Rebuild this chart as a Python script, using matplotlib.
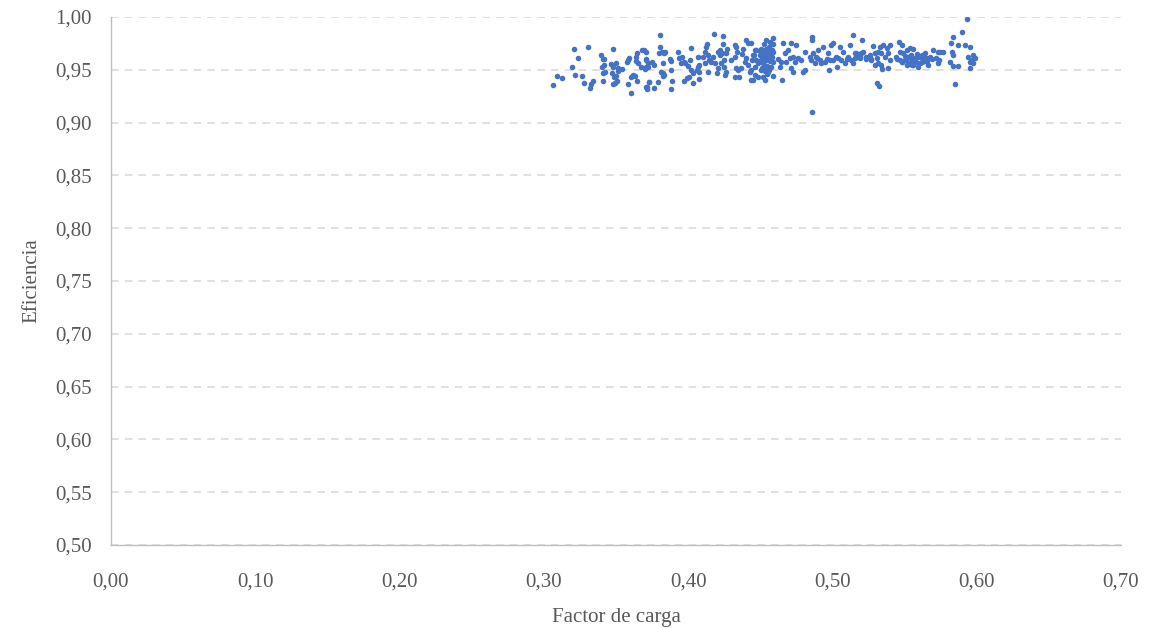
import matplotlib.pyplot as plt
from matplotlib.ticker import FuncFormatter

# points (Factor de carga, Eficiencia)
factor_carga = [
    0.3065, 0.3090, 0.3127, 0.3206, 0.3194, 0.3217, 0.3236, 0.3266, 0.3280, 0.3308,
    0.3320, 0.3326, 0.3342, 0.3396, 0.3407, 0.3419, 0.3481, 0.3403, 0.3419, 0.3412,
    0.3426, 0.3407, 0.3465, 0.3477, 0.3500, 0.3512, 0.3516, 0.3544, 0.3472, 0.3488,
    0.3502, 0.3507, 0.3493, 0.3477, 0.3581, 0.3588, 0.3576, 0.3606, 0.3581, 0.3604,
    0.3616, 0.3634, 0.3648, 0.3646, 0.3639, 0.3641, 0.3650, 0.3680, 0.3697, 0.3708,
    0.3674, 0.3703, 0.3720, 0.3711, 0.3715, 0.3731,
    0.3806, 0.3806, 0.3801, 0.3819, 0.3835, 0.3842, 0.3708, 0.3708, 0.3720, 0.3708,
    0.3750, 0.3766, 0.3813, 0.3829, 0.3835, 0.3824, 0.3829, 0.3875, 0.3882, 0.3882,
    0.3889, 0.3882, 0.3727, 0.3713, 0.3766, 0.3790, 0.3928, 0.3940, 0.3958, 0.3970,
    0.3951, 0.3981, 0.3998, 0.4014, 0.4021, 0.4021, 0.4033, 0.4005, 0.3974, 0.3990,
    0.4037, 0.4067, 0.4078, 0.4067, 0.4060, 0.4078, 0.4078, 0.4125, 0.4132, 0.4120,
    0.4106, 0.4137, 0.4148, 0.4120, 0.4171, 0.4160, 0.4137, 0.4183, 0.4176, 0.4241,
    0.4206, 0.4222, 0.4218, 0.4236, 0.4252, 0.4229, 0.4206, 0.4199, 0.4252, 0.4264,
    0.4257, 0.4241, 0.4270, 0.4264, 0.4299, 0.4322, 0.4329, 0.4338, 0.4322, 0.4329,
    0.4345, 0.4322, 0.4352, 0.4380, 0.4375, 0.4403, 0.4414, 0.4403, 0.4391, 0.4414,
    0.4368, 0.4426, 0.4444, 0.4454, 0.4437, 0.4461, 0.4472,
    0.4437, 0.4461, 0.4449, 0.4472, 0.4484, 0.4437, 0.4461, 0.4449, 0.4484,
    0.4495, 0.4500, 0.4505, 0.4510, 0.4515, 0.4520, 0.4525, 0.4525, 0.4530, 0.4535,
    0.4540, 0.4540, 0.4545, 0.4550, 0.4550, 0.4555, 0.4560, 0.4560, 0.4565, 0.4570,
    0.4570, 0.4575, 0.4580, 0.4580, 0.4585, 0.4590, 0.4590, 0.4520, 0.4540, 0.4560,
    0.4500, 0.4510, 0.4530, 0.4545, 0.4565, 0.4575, 0.4585, 0.4535, 0.4555, 0.4505,
    0.4588, 0.4530, 0.4651, 0.4657, 0.4715, 0.4750,
    0.4669, 0.4692, 0.4703, 0.4727, 0.4738, 0.4680, 0.4645, 0.4634, 0.4715, 0.4727,
    0.4796, 0.4808, 0.4808, 0.4785, 0.4861, 0.4861, 0.4861,
    0.4843, 0.4854, 0.4866, 0.4877, 0.4889, 0.4912, 0.4900, 0.4935, 0.4924, 0.4947,
    0.4970, 0.4981, 0.4993, 0.5005, 0.5005, 0.4974, 0.5028, 0.5051, 0.5058, 0.5074,
    0.5085, 0.5035, 0.5109, 0.5120, 0.5132, 0.5144, 0.5155, 0.5178, 0.5190, 0.5201,
    0.5144,
    0.5931, 0.5896, 0.5838, 0.5819, 0.5873, 0.5919, 0.5954, 0.5826, 0.5838, 0.5815,
    0.5745, 0.5764, 0.5741, 0.5734, 0.5838, 0.5873, 0.5852, 0.5954, 0.5942, 0.5965,
    0.5977, 0.5954, 0.5988, 0.5977, 0.5208, 0.5282, 0.5306, 0.5322,
    0.5167, 0.5190, 0.5213, 0.5236, 0.5259, 0.5270, 0.5293, 0.5306, 0.5317, 0.5340,
    0.5329, 0.5352, 0.5375, 0.5398, 0.5387, 0.5364, 0.5398, 0.5340, 0.5317, 0.5293,
    0.5387, 0.5347,
    0.5463, 0.5479, 0.5444, 0.5467, 0.5490, 0.5514, 0.5537, 0.5560, 0.5525, 0.5502,
    0.5549, 0.5571, 0.5594, 0.5618, 0.5629, 0.5652, 0.5675, 0.5698, 0.5606, 0.5560,
    0.5514, 0.5479, 0.5664, 0.5734, 0.5594, 0.5641,
    0.5450, 0.5485, 0.5520, 0.5545, 0.5580, 0.5610, 0.5640, 0.5530, 0.5500, 0.5470,
    0.5555, 0.5585, 0.5620, 0.5655, 0.5690, 0.5720, 0.4620, 0.4760, 0.4890, 0.4960,
    0.5040, 0.5100, 0.5160, 0.5230, 0.5270,
]
eficiencia = [
    0.9356, 0.9438, 0.9422, 0.9694, 0.9527, 0.9448, 0.9612, 0.9438, 0.9375, 0.9719,
    0.9330, 0.9366, 0.9390, 0.9637, 0.9605, 0.9600, 0.9694, 0.9530, 0.9545, 0.9470,
    0.9476, 0.9390, 0.9552, 0.9530, 0.9561, 0.9514, 0.9489, 0.9505, 0.9467, 0.9435,
    0.9438, 0.9394, 0.9378, 0.9366, 0.9593, 0.9609, 0.9571, 0.9277, 0.9366, 0.9435,
    0.9451, 0.9444, 0.9394, 0.9662, 0.9624, 0.9586, 0.9561, 0.9688, 0.9688, 0.9605,
    0.9530, 0.9505, 0.9524, 0.9340, 0.9318, 0.9387,
    0.9833, 0.9719, 0.9656, 0.9671, 0.9656, 0.9671, 0.9671, 0.9593, 0.9561, 0.9530,
    0.9577, 0.9545, 0.9482, 0.9473, 0.9451, 0.9441, 0.9561, 0.9600, 0.9583, 0.9498,
    0.9397, 0.9315, 0.9387, 0.9340, 0.9325, 0.9382, 0.9671, 0.9615, 0.9624, 0.9577,
    0.9561, 0.9561, 0.9536, 0.9593, 0.9704, 0.9498, 0.9467, 0.9435, 0.9397, 0.9420,
    0.9372, 0.9624, 0.9545, 0.9530, 0.9498, 0.9482, 0.9410, 0.9719, 0.9741, 0.9671,
    0.9624, 0.9640, 0.9593, 0.9561, 0.9624, 0.9577, 0.9482, 0.9561, 0.9836, 0.9823,
    0.9671, 0.9688, 0.9640, 0.9656, 0.9593, 0.9561, 0.9514, 0.9467, 0.9524, 0.9482,
    0.9451, 0.9741, 0.9694, 0.9656, 0.9593, 0.9735, 0.9713, 0.9671, 0.9624, 0.9514,
    0.9498, 0.9435, 0.9435, 0.9694, 0.9650, 0.9782, 0.9751, 0.9609, 0.9577, 0.9545,
    0.9514, 0.9482, 0.9593, 0.9640, 0.9403, 0.9530, 0.9688,
    0.9751, 0.9688, 0.9640, 0.9593, 0.9561, 0.9498, 0.9451, 0.9403, 0.9435,
    0.9640, 0.9580, 0.9700, 0.9520, 0.9610, 0.9670, 0.9550, 0.9740, 0.9490, 0.9630,
    0.9590, 0.9700, 0.9460, 0.9660, 0.9540, 0.9610, 0.9720, 0.9500, 0.9580, 0.9650,
    0.9760, 0.9530, 0.9620, 0.9690, 0.9440, 0.9570, 0.9740, 0.9430, 0.9780, 0.9680,
    0.9680, 0.9570, 0.9600, 0.9635, 0.9615, 0.9595, 0.9665, 0.9525, 0.9480, 0.9500,
    0.9798, 0.9403, 0.9403, 0.9751, 0.9751, 0.9735,
    0.9656, 0.9688, 0.9609, 0.9624, 0.9577, 0.9577, 0.9577, 0.9530, 0.9514, 0.9482,
    0.9482, 0.9498, 0.9671, 0.9593, 0.9814, 0.9782, 0.9103,
    0.9624, 0.9593, 0.9656, 0.9561, 0.9624, 0.9593, 0.9688, 0.9719, 0.9561, 0.9577,
    0.9656, 0.9593, 0.9735, 0.9751, 0.9593, 0.9498, 0.9624, 0.9719, 0.9593, 0.9671,
    0.9561, 0.9530, 0.9624, 0.9735, 0.9593, 0.9561, 0.9656, 0.9624, 0.9609, 0.9656,
    0.9830,
    0.9978, 0.9861, 0.9808, 0.9751, 0.9735, 0.9735, 0.9719, 0.9671, 0.9640, 0.9577,
    0.9671, 0.9671, 0.9593, 0.9561, 0.9536, 0.9536, 0.9366, 0.9514, 0.9624, 0.9593,
    0.9640, 0.9577, 0.9609, 0.9561, 0.9782, 0.9725, 0.9378, 0.9347,
    0.9656, 0.9624, 0.9671, 0.9624, 0.9640, 0.9593, 0.9656, 0.9609, 0.9561, 0.9545,
    0.9719, 0.9735, 0.9704, 0.9735, 0.9656, 0.9624, 0.9593, 0.9656, 0.9671, 0.9545,
    0.9514, 0.9505,
    0.9766, 0.9735, 0.9624, 0.9671, 0.9656, 0.9688, 0.9704, 0.9694, 0.9624, 0.9593,
    0.9593, 0.9609, 0.9624, 0.9640, 0.9593, 0.9609, 0.9624, 0.9688, 0.9561, 0.9545,
    0.9545, 0.9577, 0.9545, 0.9671, 0.9530, 0.9656,
    0.9600, 0.9575, 0.9610, 0.9640, 0.9570, 0.9620, 0.9580, 0.9560, 0.9630, 0.9590,
    0.9550, 0.9650, 0.9570, 0.9580, 0.9600, 0.9610, 0.9600, 0.9610, 0.9615, 0.9605,
    0.9610, 0.9600, 0.9615, 0.9605, 0.9600,
]

x_ticks = [0.0, 0.1, 0.2, 0.3, 0.4, 0.5, 0.6, 0.7]
y_ticks = [0.50, 0.55, 0.60, 0.65, 0.70, 0.75, 0.80, 0.85, 0.90, 0.95, 1.00]

plt.rcParams["font.family"] = ["Liberation Serif", "DejaVu Serif"]

fig = plt.figure(figsize=(11.49, 6.29), dpi=100)
ax = fig.add_axes([0.0966, 0.1335, 0.8790, 0.8395])

ax.scatter(factor_carga, eficiencia, s=16, color="#4472C4", linewidths=0, zorder=3)

ax.set_xlim(0, 0.7)
ax.set_ylim(0.5, 1.0)
ax.set_xticks(x_ticks)
ax.set_yticks(y_ticks)

comma = FuncFormatter(lambda v, p: f"{v:.2f}".replace(".", ","))
ax.xaxis.set_major_formatter(comma)
ax.yaxis.set_major_formatter(comma)

ax.grid(axis="y", color="#D9D9D9", linestyle=(0, (5, 4)), linewidth=1.1, zorder=0)
ax.set_axisbelow(True)

for side in ["top", "right"]:
    ax.spines[side].set_visible(False)
for side in ["left", "bottom"]:
    ax.spines[side].set_color("#BFBFBF")
    ax.spines[side].set_linewidth(1)

ax.tick_params(length=0, labelsize=15, labelcolor="#595959")
ax.tick_params(axis="x", pad=20)
ax.tick_params(axis="y", pad=14)

ax.set_xlabel("Factor de carga", fontsize=15, color="#595959", labelpad=12)
ax.set_ylabel("Eficiencia", fontsize=15, color="#595959", labelpad=10)

plt.savefig("out.png", dpi=100)
plt.close(fig)
